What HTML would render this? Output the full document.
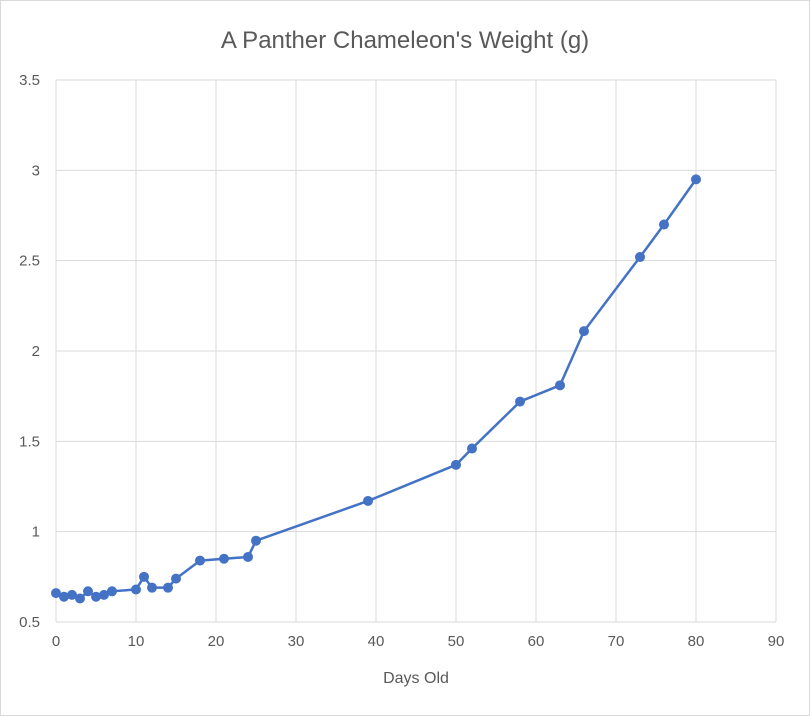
<!DOCTYPE html>
<html><head><meta charset="utf-8"><style>
html,body{margin:0;padding:0;background:#fff}
svg{display:block;font-family:"Liberation Sans",sans-serif}
</style></head><body>
<svg id="chart" width="810" height="716">
<rect x="0.5" y="0.5" width="809" height="715" fill="#fff" stroke="#d9d9d9"/>
<text x="405" y="48" text-anchor="middle" font-size="24" fill="#595959">A Panther Chameleon's Weight (g)</text>
<g id="grid"></g><g id="ticks"></g><g id="series"></g>
<text x="416" y="683" text-anchor="middle" font-size="16" fill="#595959">Days Old</text>
</svg>
<script>
const days=[0,1,2,3,4,5,6,7,10,11,12,14,15,18,21,24,25,39,50,52,58,63,66,73,76,80];
const weights=[0.66,0.64,0.65,0.63,0.67,0.64,0.65,0.67,0.68,0.75,0.69,0.69,0.74,0.84,0.85,0.86,0.95,1.17,1.37,1.46,1.72,1.81,2.11,2.52,2.70,2.95];
const xTicks=[0,10,20,30,40,50,60,70,80,90];
const yTicks=[0.5,1,1.5,2,2.5,3,3.5];
const NS="http://www.w3.org/2000/svg";
const L=56,R=776,T=80,B=622;
const xs=v=>L+(v-0)/(90-0)*(R-L);
const ys=v=>B-(v-0.5)/(3.5-0.5)*(B-T);
const grid=document.getElementById('grid'),ticks=document.getElementById('ticks'),ser=document.getElementById('series');
function mk(tag,attrs,parent){const e=document.createElementNS(NS,tag);for(const k in attrs)e.setAttribute(k,attrs[k]);parent.appendChild(e);return e;}
xTicks.forEach(t=>{
 const l=mk('line',{x1:xs(t),x2:xs(t),y1:T,y2:B,stroke:'#d9d9d9','stroke-width':1},grid);
 
 
 const tx=mk('text',{x:xs(t),y:B+24,'text-anchor':'middle','font-size':15,fill:'#595959'},ticks);
 tx.textContent=t;
 
 
});
yTicks.forEach(t=>{
 const l=mk('line',{x1:L,x2:R,y1:ys(t),y2:ys(t),stroke:'#d9d9d9','stroke-width':1},grid);
 
 
 const tx=mk('text',{x:L-16,y:ys(t)+5,'text-anchor':'end','font-size':15,fill:'#595959'},ticks);
 tx.textContent=t;
 
 
});
const pts=days.map((d,i)=>xs(d)+','+ys(weights[i])).join(' ');
const pl=mk('polyline',{points:pts,fill:'none',stroke:'#4472c4','stroke-width':2.5,'stroke-linejoin':'round'},ser);


days.forEach((d,i)=>{
 const c=mk('circle',{cx:xs(d),cy:ys(weights[i]),r:5,fill:'#4472c4'},ser);
 
 
});
</script>
</body></html>
